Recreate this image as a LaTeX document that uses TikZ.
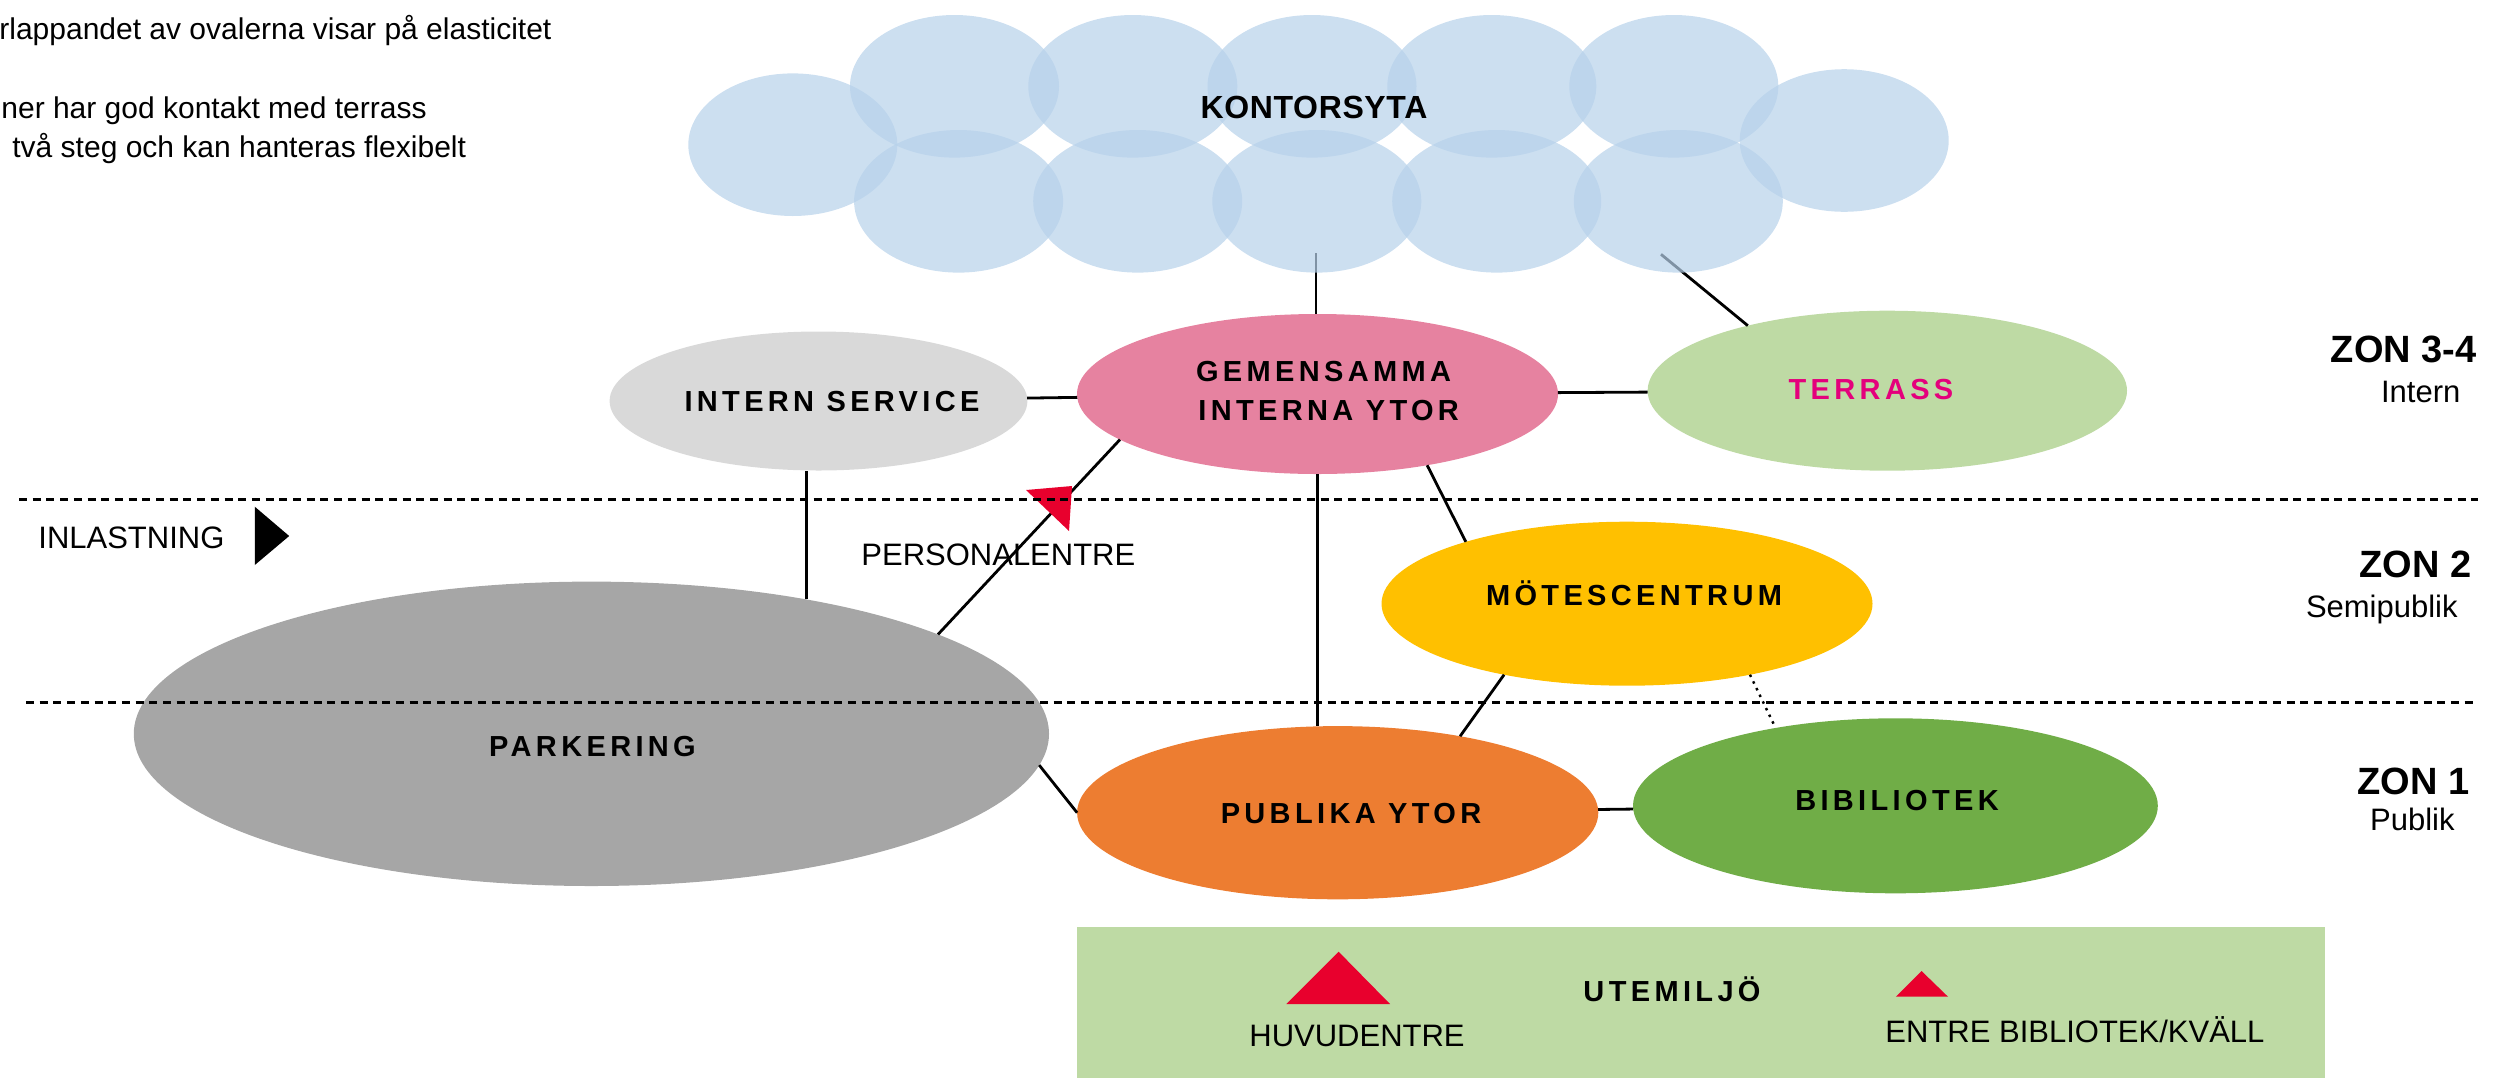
\documentclass[tikz,border=0pt]{standalone}
\usepackage{fontspec}
\setmainfont{Liberation Sans}
\newfontfamily\tagfont{Liberation Sans}[LetterSpace=15]
\newfontfamily\cloudfont{Liberation Sans}[LetterSpace=2]
\usetikzlibrary{shapes.geometric}

\definecolor{cloudblue}{RGB}{182,209,234}
\definecolor{servgray}{RGB}{217,217,217}
\definecolor{sharedpink}{RGB}{230,130,160}
\definecolor{terrgreen}{RGB}{190,218,164}
\definecolor{terrmagenta}{RGB}{228,0,124}
\definecolor{parkgray}{RGB}{166,166,166}
\definecolor{meetyellow}{RGB}{255,192,0}
\definecolor{puborange}{RGB}{237,125,49}
\definecolor{libgreen}{RGB}{112,173,71}
\definecolor{entryred}{RGB}{232,0,45}

\tikzset{
  area/.style={ellipse, draw=none, inner sep=0pt, outer sep=0pt},
  tag/.style={anchor=base, inner sep=0pt, font=\tagfont\bfseries\fontsize{14.5}{17}\selectfont},
  caption/.style={anchor=base west, inner sep=0pt, font=\fontsize{15.5}{18}\selectfont},
  note/.style={anchor=base west, inner sep=0pt, font=\fontsize{15}{18}\selectfont},
  zonehead/.style={anchor=base east, inner sep=0pt, font=\bfseries\fontsize{19}{22}\selectfont},
  zonesub/.style={anchor=base east, inner sep=0pt, font=\fontsize{15.5}{18}\selectfont},
  link/.style={line width=1.4pt},
  weaklink/.style={line width=1.2pt, dash pattern=on 1.25pt off 2.45pt},
  zoneline/.style={line width=1.5pt, dash pattern=on 4pt off 2.85pt},
  puff/.style={fill=cloudblue, fill opacity=0.7},
}

\begin{document}
\begin{tikzpicture}[x=0.5pt, y=-0.5pt]
\useasboundingbox (0,0) rectangle (2514,1077);

% notes in the upper left corner
\node[note] (n1) at (-1,39.3) {rlappandet av ovalerna visar på elasticitet};
\node[note] (n2) at (1,118.3) {ner har god kontakt med terrass};
\node[note] (n3) at (12,157) {två steg och kan hanteras flexibelt};

% outdoor strip
\fill[terrgreen] (1076.5,926.7) rectangle (2325,1080);

% functional areas
\node[area, fill=servgray,   minimum width=208.9pt, minimum height=69.5pt] (int)  at (818.5,401) {};
\node[area, fill=sharedpink, minimum width=240.5pt, minimum height=80pt]   (gem)  at (1317.5,394) {};
\node[area, fill=terrgreen,  minimum width=239.7pt, minimum height=80pt]   (ter)  at (1887.3,390.7) {};
\node[area, fill=parkgray,   minimum width=457.6pt, minimum height=152.2pt] (park) at (591.4,733.8) {};
\node[area, fill=meetyellow, minimum width=245.5pt, minimum height=82pt]   (mot)  at (1627,603.7) {};
\node[area, fill=puborange,  minimum width=260.6pt, minimum height=86.6pt] (pub)  at (1337.7,812.7) {};
\node[area, fill=libgreen,   minimum width=262.4pt, minimum height=87.5pt] (bib)  at (1895.4,805.8) {};

% connections
\coordinate (cloudS) at (1316,253);
\coordinate (cloudE) at (1661,254.3);
\draw[link] (cloudS) -- (cloudS |- gem.north);
\draw[link] (cloudE) -- (ter.155);
\draw[link] (int) -- (gem);
\draw[link] (gem) -- (ter);
\draw[link] (gem.193) -- (park.16);
\draw[link] (park.32) -- (park.32 |- int.south);
\draw[link] (gem.south) -- (gem.south |- pub.north);
\draw[link] (gem.327) -- (mot.159);
\draw[link] (mot.210) -- (pub.32);
\draw[weaklink] (mot.330) -- (bib.147);
\draw[link] (pub) -- (bib);
\draw[link] (park.356) -- (pub.west);

% office cloud
\foreach \cx in {954.5,1132.8,1312,1491.8,1673.8}
  \fill[puff] (\cx,86.3) ellipse [x radius=104.5, y radius=71.3];
\foreach \cx in {958.6,1137.7,1316.8,1496.7,1678.3}
  \fill[puff] (\cx,201.3) ellipse [x radius=104.5, y radius=71.3];
\fill[puff] (792.8,144.7) ellipse [x radius=104.5, y radius=71.3];
\fill[puff] (1844.2,140.5) ellipse [x radius=104.5, y radius=71.3];

% entrances
\fill[entryred] (1026,490) -- (1072,486) -- (1069,531) -- cycle;
\fill[black] (254.8,506.7) -- (289.2,536) -- (254.8,565) -- cycle;
\fill[entryred] (1286.3,1004) -- (1338.6,951.7) -- (1390,1004) -- cycle;
\fill[entryred] (1895.8,996.7) -- (1921.5,971) -- (1948,996.7) -- cycle;

% zone borders
\coordinate (z1w) at (19,499);
\coordinate (z1e) at (2478,499);
\coordinate (z2w) at (26,702);
\coordinate (z2e) at (2474,702);
\draw[zoneline] (z1w) -- (z1e);
\draw[zoneline] (z2w) -- (z2e);

% labels
\node[tag, font=\cloudfont\bfseries\fontsize{16}{19}\selectfont] (tkon) at (1314,118.3) {KONTORSYTA};
\node[tag] (tint) at (832,411) {INTERN SERVICE};
\node[tag] (tgem1) at (1323.5,381.7) {GEMENSAMMA};
\node[tag] (tgem2) at (1328.7,420) {INTERNA YTOR};
\node[tag, text=terrmagenta] (tter) at (1871,399.3) {TERRASS};
\node[tag] (tpark) at (592.5,756.7) {PARKERING};
\node[tag] (tmot) at (1634,605) {MÖTESCENTRUM};
\node[tag] (tpub) at (1351,823.3) {PUBLIKA YTOR};
\node[tag] (tbib) at (1897,810) {BIBILIOTEK};
\node[tag] (tute) at (1672,1001) {UTEMILJÖ};

\node[caption] (tinl) at (38,548) {INLASTNING};
\node[caption] (tpers) at (861,565) {PERSONALENTRE};
\node[caption, anchor=base] (thuv) at (1357,1046.7) {HUVUDENTRE};
\node[caption] (tbibe) at (1885,1042.7) {ENTRE BIBLIOTEK/KVÄLL};

\node[zonehead] (z34) at (2477,362.7) {ZON 3-4};
\node[zonesub] (z34s) at (2460.7,402.7) {Intern};
\node[zonehead] (z2) at (2471.7,577.6) {ZON 2};
\node[zonesub] (z2s) at (2458,617.5) {Semipublik};
\node[zonehead] (z1) at (2470,794.3) {ZON 1};
\node[zonesub] (z1s) at (2455,830.4) {Publik};
\end{tikzpicture}
\end{document}
